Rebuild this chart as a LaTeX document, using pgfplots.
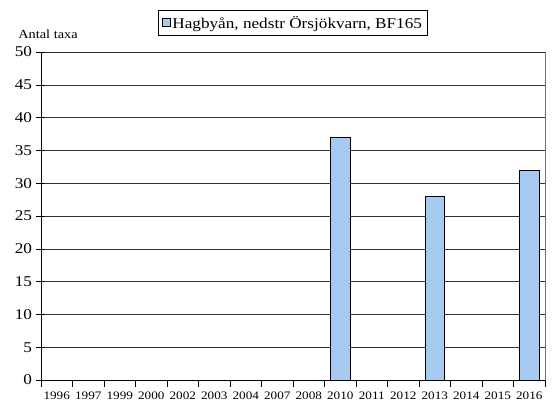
\documentclass[border=0pt]{standalone}
\usepackage{pgfplots}
\pgfplotsset{compat=1.18}
\usepackage{fontspec}
\setmainfont[FakeStretch=1.15]{Liberation Serif}
\definecolor{barblue}{HTML}{A6CAF0}

\begin{document}
\begin{tikzpicture}[x=1bp,y=1bp]
\path[use as bounding box] (-41,-26) rectangle (511,380);
\begin{axis}[
    at={(0,0)}, anchor=south west,
    scale only axis,
    width=504bp, height=328bp,
    xmin=-0.5, xmax=15.5,
    ymin=0, ymax=50,
    ytick={0,5,...,50},
    xtick={0,...,15},
    xticklabels={1996,1997,1999,2000,2002,2003,2004,2007,2008,2010,2011,2012,2013,2014,2015,2016},
    major x tick style={draw=none},
    minor xtick={-0.5,0.5,...,15.5},
    minor tick length=7bp,
    major tick length=9bp,
    xtick align=center, ytick align=center,
    ymajorgrids,
    grid style={black!80, line width=0.6pt},
    axis line style={line width=0.8pt},
    tick style={black, line width=0.6pt},
    /pgf/number format/assume math mode=true,
    xticklabel style={font=\fontsize{11.5}{12}\selectfont, yshift=1bp},
    yticklabel style={font=\fontsize{15}{16}\selectfont, xshift=-1bp},
    axis x line*=bottom, axis y line*=left,
    ybar, bar width=19.5bp,
    legend style={at={(0.5,1.05)}, anchor=south, draw=black, line width=0.6pt,
        font=\fontsize{15}{16}\selectfont, inner sep=3.5bp, legend cell align=left},
    legend image code/.code={\draw[#1, line width=0.4pt] (0bp,-3.5bp) rectangle (8bp,4.5bp);},
    clip=false,
]
\addplot[fill=barblue, draw=black, line width=0.5pt]
  coordinates {(9,37) (12,28) (15,32)};
\addlegendentry{Hagbyån, nedstr Örsjökvarn, BF165}
\draw[black!55, line width=0.8pt] (axis cs:15.5,0) -- (axis cs:15.5,50);
\node[anchor=south, font=\fontsize{12.5}{13}\selectfont] at (rel axis cs:0,1) [yshift=10bp, xshift=7bp] {Antal taxa};
\end{axis}
\end{tikzpicture}
\end{document}
